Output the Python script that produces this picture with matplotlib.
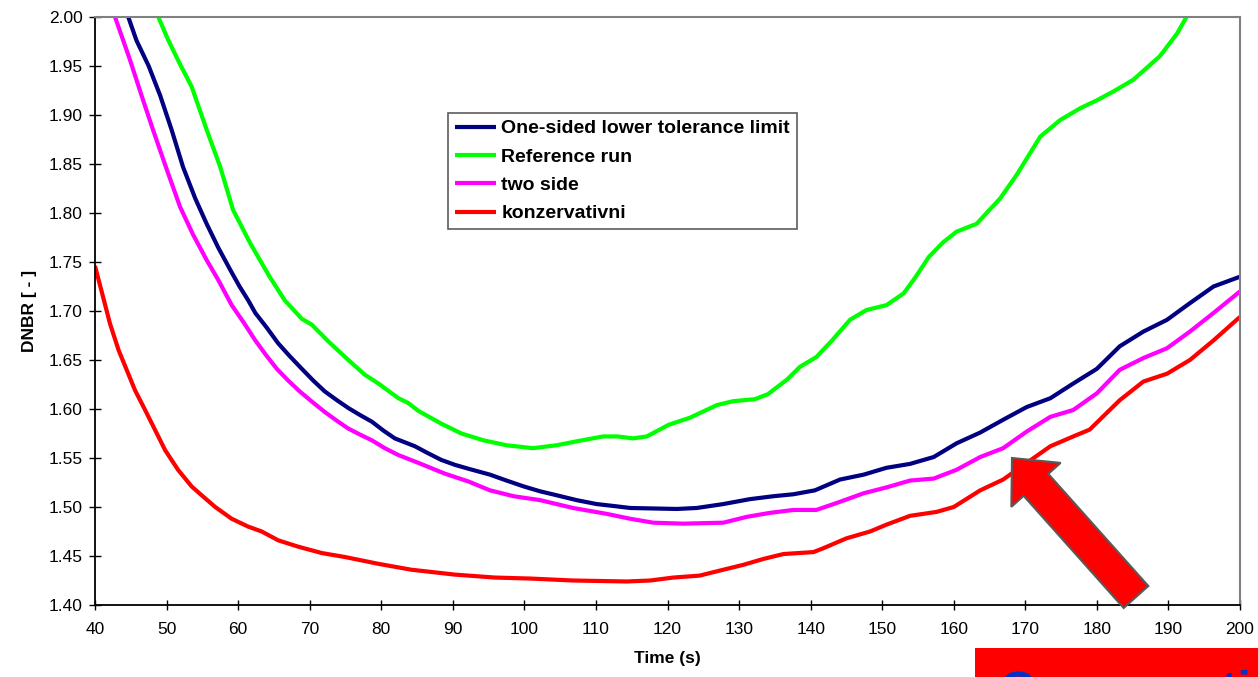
import matplotlib
matplotlib.use("Agg")
import matplotlib.pyplot as plt
from matplotlib.patches import Polygon, Rectangle
import numpy as np

# --- data --------------------------------------------------------------------
one_sided_t = [43.5, 44.65, 45.8, 47.5, 49.1, 50.7, 52.3, 54.0, 55.6, 57.2, 58.9, 60.2,
               61.4, 62.4, 64.0, 65.6, 67.2, 68.9, 70.5, 72.1, 73.8, 75.4, 77.0, 78.7,
               80.3, 81.9, 84.7, 86.5, 88.4, 90.3, 92.2, 95.2, 97.5, 99.9, 102.2, 104.5,
               107.3, 110.1, 112.5, 114.8, 118.0, 121.3, 124.1, 127.8, 131.5, 134.8,
               137.6, 140.6, 144.1, 147.4, 150.6, 153.9, 157.2, 160.4, 163.7, 166.9,
               170.2, 173.5, 176.7, 180.0, 183.2, 186.5, 189.8, 193.0, 196.3, 200.0]
one_sided_v = [2.03, 2.000, 1.976, 1.950, 1.920, 1.885, 1.847, 1.815, 1.789, 1.765, 1.742,
               1.725, 1.711, 1.698, 1.683, 1.667, 1.654, 1.641, 1.629, 1.618, 1.609, 1.601,
               1.594, 1.587, 1.578, 1.570, 1.562, 1.555, 1.548, 1.543, 1.539, 1.533, 1.527,
               1.521, 1.516, 1.512, 1.507, 1.503, 1.501, 1.499, 1.4985, 1.498, 1.499, 1.503,
               1.508, 1.511, 1.513, 1.517, 1.528, 1.533, 1.540, 1.544, 1.551, 1.565, 1.576,
               1.589, 1.602, 1.611, 1.626, 1.641, 1.664, 1.679, 1.691, 1.708, 1.725, 1.735]

reference_t = [47.5, 48.85, 50.2, 51.8, 53.5, 55.6, 57.5, 59.3, 61.7, 64.4, 66.5, 68.9,
               70.3, 72.6, 75.4, 77.7, 79.6, 82.4, 83.8, 85.2, 88.4, 91.2, 94.3, 97.5,
               101.2, 104.5, 107.3, 111.0, 113.0, 115.2, 117.1, 120.2, 123.1, 126.9,
               129.2, 132.2, 134.0, 136.7, 138.5, 140.8, 143.0, 145.5, 147.8, 150.6,
               153.0, 154.7, 156.5, 158.5, 160.4, 163.2, 166.5, 168.8, 172.1, 174.9,
               177.7, 180.0, 182.3, 185.1, 188.8, 191.2, 192.6, 194.0]
reference_v = [2.04, 2.000, 1.977, 1.953, 1.929, 1.885, 1.847, 1.803, 1.769, 1.735, 1.711,
               1.692, 1.686, 1.669, 1.650, 1.635, 1.626, 1.611, 1.606, 1.598, 1.585, 1.575,
               1.568, 1.563, 1.560, 1.563, 1.567, 1.572, 1.572, 1.570, 1.572, 1.584, 1.591,
               1.604, 1.608, 1.610, 1.615, 1.630, 1.643, 1.653, 1.670, 1.691, 1.701, 1.706,
               1.718, 1.735, 1.755, 1.770, 1.781, 1.789, 1.815, 1.839, 1.878, 1.895, 1.907,
               1.915, 1.924, 1.936, 1.960, 1.983, 2.001, 2.04]

two_side_t = [40.5, 42.8, 44.9, 46.5, 48.1, 50.0, 51.9, 53.7, 55.6, 57.2, 59.1, 60.8,
              62.4, 63.9, 65.4, 67.0, 68.6, 70.4, 72.1, 73.8, 75.4, 77.0, 78.7, 80.5,
              82.4, 85.2, 88.9, 92.2, 95.2, 98.5, 102.2, 106.8, 111.5, 114.8, 118.0,
              122.2, 127.8, 131.1, 134.3, 137.6, 140.8, 143.6, 147.4, 150.6, 153.9,
              157.2, 160.4, 163.7, 166.9, 170.2, 173.5, 176.7, 180.0, 183.2, 186.5,
              189.8, 193.0, 196.3, 200.0]
two_side_v = [2.05, 2.000, 1.956, 1.920, 1.885, 1.845, 1.806, 1.778, 1.752, 1.732, 1.706,
              1.688, 1.670, 1.655, 1.641, 1.629, 1.618, 1.607, 1.597, 1.588, 1.580, 1.574,
              1.568, 1.560, 1.553, 1.545, 1.534, 1.526, 1.517, 1.511, 1.507, 1.499, 1.493,
              1.488, 1.484, 1.483, 1.484, 1.490, 1.494, 1.497, 1.497, 1.504, 1.514, 1.520,
              1.527, 1.529, 1.538, 1.551, 1.560, 1.577, 1.592, 1.599, 1.616, 1.640, 1.652,
              1.662, 1.679, 1.698, 1.720]

konzerv_t = [40.0, 42.1, 43.3, 45.6, 47.0, 49.8, 51.6, 53.5, 54.9, 56.8, 59.1, 61.4,
             63.3, 65.6, 68.4, 71.7, 74.9, 79.6, 84.2, 90.3, 95.9, 100.8, 106.8, 114.3,
             117.6, 120.8, 124.5, 127.8, 130.6, 133.4, 136.2, 140.4, 141.8, 145.0,
             148.3, 150.6, 153.9, 157.6, 160.0, 163.7, 166.9, 170.2, 173.5, 176.7,
             179.0, 183.2, 186.5, 189.8, 193.0, 196.3, 200.0]
konzerv_v = [1.746, 1.687, 1.660, 1.619, 1.599, 1.558, 1.538, 1.521, 1.512, 1.500, 1.488,
             1.480, 1.475, 1.466, 1.4595, 1.453, 1.449, 1.442, 1.436, 1.431, 1.428, 1.427,
             1.425, 1.424, 1.425, 1.428, 1.430, 1.436, 1.441, 1.447, 1.452, 1.454, 1.458,
             1.468, 1.475, 1.482, 1.491, 1.495, 1.500, 1.517, 1.528, 1.545, 1.562, 1.572,
             1.579, 1.609, 1.628, 1.636, 1.650, 1.670, 1.694]

SERIES = [
    ("One-sided lower tolerance limit", one_sided_t, one_sided_v, "#000080"),
    ("Reference run", reference_t, reference_v, "#00ff00"),
    ("two side", two_side_t, two_side_v, "#ff00ff"),
    ("konzervativni", konzerv_t, konzerv_v, "#ff0000"),
]

X_TICKS = list(range(40, 201, 10))
Y_TICKS = [1.40, 1.45, 1.50, 1.55, 1.60, 1.65, 1.70, 1.75, 1.80, 1.85, 1.90, 1.95, 2.00]

W, H = 1258, 677

plt.rcParams["font.family"] = ["Liberation Sans", "DejaVu Sans"]

fig = plt.figure(figsize=(W / 100, H / 100), dpi=100)
ax = fig.add_axes([95 / W, 1 - 605 / H, (1240 - 95) / W, (605 - 17) / H])

for label, t, v, color in SERIES:
    ax.plot(t, v, color=color, lw=3.0, label=label, solid_capstyle="butt")

ax.set_xlim(40, 200)
ax.set_ylim(1.40, 2.00)
ax.set_xticks(X_TICKS)
ax.set_yticks(Y_TICKS)
ax.set_yticklabels([f"{y:.2f}" for y in Y_TICKS])
ax.tick_params(axis="x", direction="inout", length=7, width=1, pad=9, labelsize=12.5)
ax.tick_params(axis="y", direction="inout", length=8, width=1, pad=5, labelsize=12.5)

for side in ("left", "bottom"):
    ax.spines[side].set_color("black")
    ax.spines[side].set_linewidth(1.3)
for side in ("top", "right"):
    ax.spines[side].set_color("#808080")
    ax.spines[side].set_linewidth(1.5)

ax.set_xlabel("Time (s)", fontsize=12.5, fontweight="bold", labelpad=10)
ax.set_ylabel("DNBR [ - ]", fontsize=12.5, fontweight="bold", labelpad=8)

leg = ax.legend(
    loc="upper left",
    bbox_to_anchor=(448 / W, 1 - 113 / H),
    bbox_transform=fig.transFigure,
    borderaxespad=0,
    frameon=True,
    fancybox=False,
    prop={"weight": "bold", "size": 14},
    handlelength=2.1,
    handletextpad=0.3,
    labelspacing=0.55,
    borderpad=0.35,
)
leg.get_frame().set_edgecolor("#333333")
leg.get_frame().set_linewidth(1.2)

# block arrow pointing at the curves (pixel geometry of the annotation)
tip = np.array([1012.0, 458.0])
tail = np.array([1136.0, 597.0])
shaft_w, head_w, head_len = 33.0, 66.0, 36.0
d = (tip - tail) / np.linalg.norm(tip - tail)
n = np.array([-d[1], d[0]])
base = tip - d * head_len
pts = [
    tail + n * shaft_w / 2,
    base + n * shaft_w / 2,
    base + n * head_w / 2,
    tip,
    base - n * head_w / 2,
    base - n * shaft_w / 2,
    tail - n * shaft_w / 2,
]
pts = [(p[0] / W, 1 - p[1] / H) for p in pts]
fig.patches.append(Polygon(pts, closed=True, transform=fig.transFigure,
                           facecolor="#ff0000", edgecolor="#595959", lw=1.5, zorder=10))

# red label box at the bottom right, cut off by the figure edge as in the source
fig.patches.append(Rectangle((975 / W, 0), 1 - 975 / W, (677 - 648) / H,
                             transform=fig.transFigure, facecolor="#ff0000",
                             edgecolor="none", zorder=9))
fig.text(1000 / W, 1 - 705 / H, "Conservative", color="#0033cc", fontsize=35,
         fontweight="bold", va="baseline", ha="left", zorder=11)

fig.savefig("out.png", dpi=100)
